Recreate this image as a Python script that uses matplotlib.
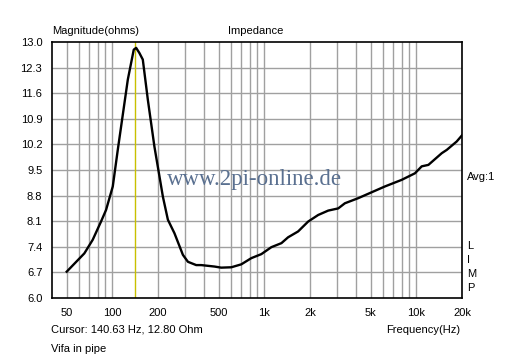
import matplotlib
matplotlib.use("Agg")
import matplotlib.pyplot as plt
from matplotlib.ticker import FixedLocator, NullFormatter

# impedance curve
freq = [50, 53.3, 65.3, 74.1, 84.1, 90.8, 100.5, 108.4, 126.2, 138.1, 143.2,
        150.4, 158.4, 171, 188.9, 214.8, 231.7, 256, 290.9, 313.9, 355.9,
        384, 469.6, 519.9, 605.6, 704.6, 820.7, 955.5, 1112, 1295, 1433, 1668,
        1942, 2261, 2632, 3064, 3388, 4150, 5078, 6217, 8011, 9802, 10860,
        12020, 14720, 15880, 18460, 19920]
ohms = [6.72, 6.84, 7.22, 7.59, 8.09, 8.41, 9.05, 10.05, 11.97, 12.79, 12.84,
        12.70, 12.52, 11.42, 10.14, 8.77, 8.14, 7.77, 7.18, 6.99, 6.90,
        6.90, 6.86, 6.83, 6.84, 6.92, 7.09, 7.20, 7.39, 7.50, 7.66, 7.82,
        8.09, 8.27, 8.39, 8.45, 8.59, 8.73, 8.89, 9.05, 9.23, 9.41, 9.60,
        9.64, 9.96, 10.05, 10.28, 10.44]

x_ticks = [50, 100, 200, 500, 1000, 2000, 5000, 10000, 20000]
x_labels = ["50", "100", "200", "500", "1k", "2k", "5k", "10k", "20k"]
y_ticks = [6.0, 6.7, 7.4, 8.1, 8.8, 9.5, 10.2, 10.9, 11.6, 12.3, 13.0]
cursor_hz = 140.63
cursor_ohm = 12.80

font = "Liberation Sans"
fs = 8

fig = plt.figure(figsize=(5.12, 3.58), dpi=100)
ax = fig.add_axes([52 / 512, 60 / 358, 410 / 512, 256 / 358])

# grid lines at every decade step
grid_x = [m * 10 ** e for e in range(1, 5) for m in range(1, 10)]
grid_x = [g for g in grid_x if 40 < g <= 20000]
for g in grid_x:
    ax.axvline(g, color="#a0a0a0", lw=1, zorder=1)
for y in y_ticks[1:-1]:
    ax.axhline(y, color="#a0a0a0", lw=1, zorder=1)

ax.axvline(cursor_hz, color="#c8c000", lw=1, zorder=2)
ax.plot(freq, ohms, color="black", lw=1.7, zorder=3)

ax.set_xscale("log")
ax.set_xlim(40, 20000)
ax.set_ylim(6.0, 13.0)
ax.xaxis.set_major_locator(FixedLocator(x_ticks))
ax.xaxis.set_minor_formatter(NullFormatter())
ax.set_xticks(x_ticks)
ax.set_xticklabels(x_labels)
ax.set_yticks(y_ticks)
ax.set_yticklabels([f"{v:.1f}" for v in y_ticks])
ax.tick_params(which="both", length=0, labelsize=fs, pad=7)
for lab in ax.get_xticklabels() + ax.get_yticklabels():
    lab.set_fontfamily(font)
for s in ax.spines.values():
    s.set_color("black")
    s.set_linewidth(1.2)

fig.text(52 / 512, 1 - 31 / 358, "Magnitude(ohms)", fontsize=fs, family=font, va="center")
fig.text(256 / 512, 1 - 31 / 358, "Impedance", fontsize=fs, family=font, va="center", ha="center")
fig.text(51 / 512, 1 - 330 / 358, f"Cursor: {cursor_hz:.2f} Hz, {cursor_ohm:.2f} Ohm",
         fontsize=fs, family=font, va="center")
fig.text(51 / 512, 1 - 349 / 358, "Vifa in pipe", fontsize=fs, family=font, va="center")
fig.text(460 / 512, 1 - 330 / 358, "Frequency(Hz)", fontsize=fs, family=font, va="center", ha="right")
fig.text(467 / 512, 1 - 177 / 358, "Avg:1", fontsize=fs, family=font, va="center")
for i, ch in enumerate("LIMP"):
    fig.text(467 / 512, 1 - (246 + i * 14) / 358, ch, fontsize=fs, family=font, va="center")

fig.text(254 / 512, 1 - 179 / 358, "www.2pi-online.de", fontsize=16.5, family="Liberation Serif",
         color="#5a7090", ha="center", va="center", zorder=5)

fig.savefig("out.png", dpi=100)
